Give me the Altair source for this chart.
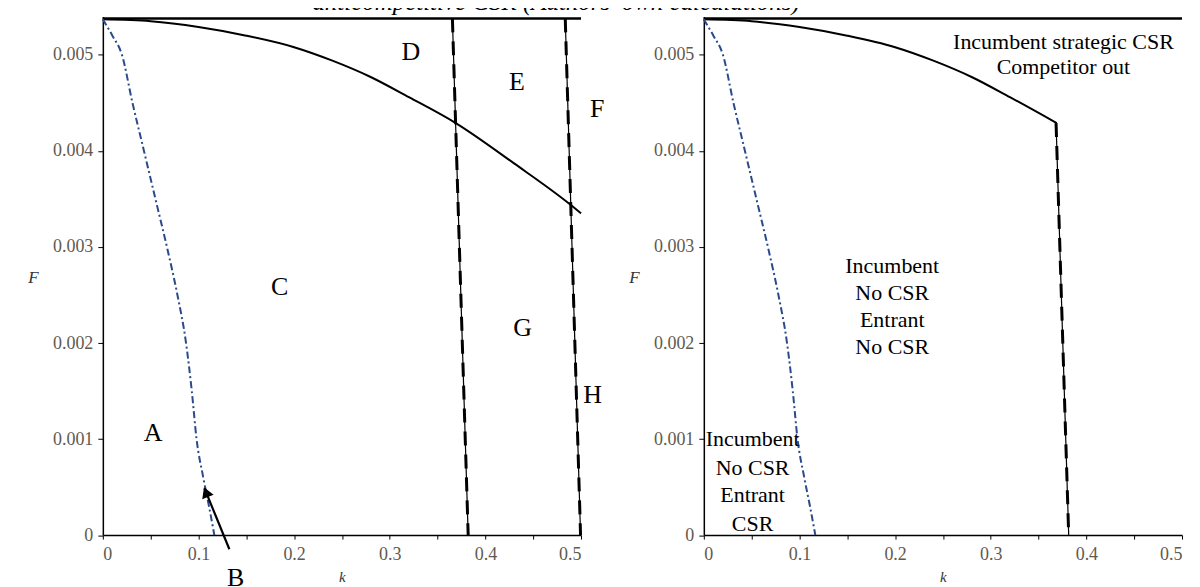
import altair as alt
import pandas as pd

# ---------------- data ----------------
blue_k = [0, 0.010, 0.020, 0.031, 0.043, 0.055, 0.067, 0.078, 0.087, 0.093, 0.098, 0.105, 0.111, 0.1166]
blue_F = [0.00537, 0.0052, 0.0050, 0.0045, 0.0040, 0.0035, 0.0030, 0.0025, 0.0020, 0.0015, 0.0010, 0.0006, 0.0003, 0.0]

black_k = [0, 0.05, 0.10, 0.15, 0.20, 0.24, 0.28, 0.32, 0.369, 0.43, 0.489, 0.50]
black_F = [0.00537, 0.00535, 0.00529, 0.00520, 0.00508, 0.00494, 0.00477, 0.00456, 0.00429, 0.00387, 0.00344, 0.00335]

top_F = 0.00538
left_top_k = [0, 0.5]
right_top_k = [0, 0.5]

# left panel boundary lines (top k, bottom k)
left_bnd_top_k = [0.3655, 0.4835]
left_bnd_bot_k = [0.382, 0.4995]
# right panel boundary line
right_bnd_k = [0.3683, 0.3815]
right_bnd_F = [0.00429, 0.0]

left_labels = ["A", "B", "C", "D", "E", "F", "G", "H"]
left_label_k = [0.0525, 0.139, 0.185, 0.322, 0.433, 0.517, 0.439, 0.512]
left_label_F = [0.00106, -0.000445, 0.00258, 0.00503, 0.00472, 0.00444, 0.00216, 0.00146]

arrow_k = [0.1323, 0.1063]
arrow_F = [-0.000147, 0.000486]
arrow_head_k = [0.1085]
arrow_head_F = [0.00043]

right_text = ["Incumbent  strategic  CSR", "Competitor out",
              "Incumbent", "No CSR", "Entrant", "No CSR",
              "Incumbent", "No CSR", "Entrant", "CSR"]
right_text_k = [0.376, 0.376, 0.197, 0.197, 0.197, 0.197, 0.051, 0.051, 0.051, 0.051]
right_text_F = [0.00513, 0.00487, 0.00280, 0.00252, 0.00224, 0.00196, 0.00100, 0.00070, 0.000415, 0.000113]

x_ticks = [0, 0.05, 0.1, 0.15, 0.2, 0.25, 0.3, 0.35, 0.4, 0.45, 0.5]
y_ticks = [0, 0.001, 0.002, 0.003, 0.004, 0.005]

title_text = ["anticompetitive CSR (Authors' own calculations)"]

# ---------------- chart ----------------
SERIF = "Liberation Serif"
W, H = 479, 519.5

xscale = alt.Scale(domain=[0, 0.5], nice=False, zero=False)
yscale = alt.Scale(domain=[0, 0.0054], nice=False, zero=False)

xaxis = alt.Axis(values=x_ticks,
                 labelExpr="abs(datum.value*10 - round(datum.value*10)) < 0.001 ? (datum.value == 0 ? '0' : format(datum.value, '.1f')) : ''",
                 title="k", titleFontStyle="italic", titleFont=SERIF, titleFontSize=15,
                 titleFontWeight="normal", titleColor="#333333", titleY=41, titleBaseline="middle",
                 labelFont=SERIF, labelFontSize=18, labelColor="#5f5a50", labelPadding=6,
                 tickSize=4, tickColor="black", domainColor="black", domainWidth=1.5, grid=False)
yaxis = alt.Axis(values=y_ticks,
                 labelExpr="datum.value == 0 ? '0' : format(datum.value, '.3f')",
                 title="F", titleAngle=0, titleFontStyle="italic", titleFont=SERIF, titleFontSize=17,
                 titleFontWeight="normal", titleColor="#333333", titleX=-70, titleY=261,
                 titleAlign="center", titleBaseline="middle",
                 labelFont=SERIF, labelFontSize=18, labelColor="#5f5a50", labelPadding=5,
                 tickSize=5, tickColor="black", domainColor="black", domainWidth=1.5, grid=False)

X = lambda: alt.X("k:Q", scale=xscale, axis=xaxis)
Y = lambda: alt.Y("F:Q", scale=yscale, axis=yaxis)

blue_df = pd.DataFrame({"k": blue_k, "F": blue_F})
black_df = pd.DataFrame({"k": black_k, "F": black_F})


def bnd_df(tops_k, bots_k, tops_F):
    rows = []
    for i, (a, b, f) in enumerate(zip(tops_k, bots_k, tops_F)):
        rows.append({"k": a, "F": f, "id": i, "o": 0})
        rows.append({"k": b, "F": 0.0, "id": i, "o": 1})
    return pd.DataFrame(rows)


def boundary_layers(df):
    thin = alt.Chart(df).mark_line(color="black", strokeWidth=1.2).encode(
        x=X(), y=Y(), detail="id:N", order="o:Q")
    thick = alt.Chart(df).mark_line(color="black", strokeWidth=3, strokeDash=[14, 9],
                                    strokeOffset=-22).encode(
        x=X(), y=Y(), detail="id:N", order="o:Q")
    return [thin, thick]


def base_layers(curve_df, top_k):
    top_df = pd.DataFrame({"k": top_k, "F": [top_F, top_F]})
    top = alt.Chart(top_df).mark_line(color="black", strokeWidth=2.5).encode(x=X(), y=Y())
    black = alt.Chart(curve_df).mark_line(color="black", strokeWidth=2,
                                          interpolate="monotone").encode(x=X(), y=Y())
    blue = alt.Chart(blue_df).mark_line(color="#2a4a8c", strokeWidth=2, interpolate="monotone",
                                        strokeDash=[7, 3, 2, 3]).encode(x=X(), y=Y())
    return [top, black, blue]


# left panel
left_bnd = bnd_df(left_bnd_top_k, left_bnd_bot_k, [top_F, top_F])
left_lab_df = pd.DataFrame({"k": left_label_k, "F": left_label_F, "t": left_labels})
left_text = alt.Chart(left_lab_df).mark_text(font=SERIF, fontSize=26, color="black",
                                             align="center", baseline="middle").encode(
    x=X(), y=Y(), text="t:N")
arrow_df = pd.DataFrame({"k": arrow_k, "F": arrow_F})
arrow_line = alt.Chart(arrow_df).mark_line(color="black", strokeWidth=2.2).encode(x=X(), y=Y())
head_df = pd.DataFrame({"k": arrow_head_k, "F": arrow_head_F})
arrow_head = alt.Chart(head_df).mark_point(shape="triangle", filled=True, color="black",
                                           size=150, angle=338, opacity=1).encode(x=X(), y=Y())
title_df = pd.DataFrame({"t": title_text})
title_layer = alt.Chart(title_df).mark_text(font=SERIF, fontSize=25, fontStyle="italic",
                                            color="black", align="center",
                                            baseline="alphabetic").encode(
    x=alt.value(454), y=alt.value(-6), text="t:N")

left = alt.layer(*base_layers(black_df, left_top_k), *boundary_layers(left_bnd), left_text,
                 arrow_line, arrow_head, title_layer).properties(width=W, height=H)

# right panel
right_curve = black_df[black_df["k"] <= 0.369]
right_bnd = pd.DataFrame({"k": right_bnd_k, "F": right_bnd_F, "id": [0, 0], "o": [0, 1]})
right_lab_df = pd.DataFrame({"k": right_text_k, "F": right_text_F, "t": right_text})
right_text_layer = alt.Chart(right_lab_df).mark_text(font=SERIF, fontSize=22, color="black",
                                                     align="center", baseline="middle").encode(
    x=X(), y=Y(), text="t:N")
right = alt.layer(*base_layers(right_curve, right_top_k), *boundary_layers(right_bnd),
                  right_text_layer).properties(width=W, height=H)

chart = alt.hconcat(left, right, spacing=123, bounds="flush").properties(
    padding={"left": 19, "top": -18, "right": 5, "bottom": 0},
    background="white",
).configure_view(stroke=None)

chart.save("out.html", embed_options={"renderer": "svg", "actions": False})
